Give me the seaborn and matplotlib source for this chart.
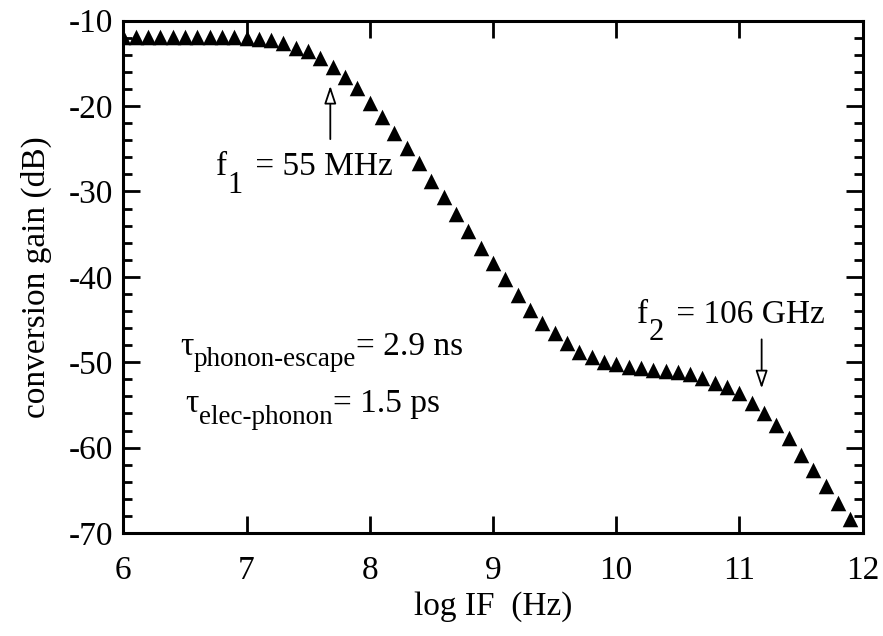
import numpy as np
import pandas as pd
import matplotlib
matplotlib.use("Agg")
import matplotlib.pyplot as plt
from matplotlib.ticker import MultipleLocator
import seaborn as sns

# log10 of IF frequency (Hz), one point every 0.1 decade
log_if = [round(6.0 + 0.1 * i, 1) for i in range(60)]

# conversion gain (dB)
gain_db = [
    -11.9, -11.9, -11.9, -11.9, -11.9, -11.9, -11.9, -11.9, -11.9, -11.9,
    -12.0, -12.2, -12.3, -12.6, -13.2, -13.6, -14.4, -15.4, -16.6, -17.9,
    -19.7, -21.3, -23.1, -24.9, -26.7, -28.8, -30.6, -32.7, -34.6, -36.6,
    -38.4, -40.3, -42.1, -43.9, -45.4, -46.6, -47.8, -48.8, -49.4, -50.0,
    -50.2, -50.6, -50.7, -50.9, -51.0, -51.1, -51.4, -51.8, -52.4, -52.9,
    -53.6, -54.8, -56.0, -57.4, -58.9, -60.9, -62.6, -64.5, -66.5, -68.4,
]

x_ticks = [6, 7, 8, 9, 10, 11, 12]
y_ticks = [-10, -20, -30, -40, -50, -60, -70]

df = pd.DataFrame({"log_if": log_if, "gain": gain_db})

sns.set_theme(style="ticks")
plt.rcParams["font.family"] = ["Liberation Serif", "DejaVu Serif"]
plt.rcParams["axes.unicode_minus"] = False
for key in ["text.color", "axes.labelcolor", "xtick.color", "ytick.color", "axes.edgecolor"]:
    plt.rcParams[key] = "black"

FS = 24

fig = plt.figure(figsize=(8.83, 6.36), dpi=100)
ax = fig.add_axes([0.1396, 0.162, 0.8374, 0.8055])

sns.scatterplot(data=df, x="log_if", y="gain", marker="^", s=125,
                color="black", linewidth=0, ax=ax, legend=False)

ax.set_xlim(6, 12)
ax.set_ylim(-70, -10)
ax.set_xticks(x_ticks)
ax.set_yticks(y_ticks)
ax.yaxis.set_minor_locator(MultipleLocator(2))

for side in ["left", "right", "top", "bottom"]:
    ax.spines[side].set_linewidth(2.2)

ax.tick_params(axis="both", which="major", direction="in", length=12, width=2.0,
               labelsize=FS, top=True, right=True)
ax.tick_params(axis="x", which="major", pad=16)
ax.tick_params(axis="y", which="major", pad=7)
ax.tick_params(axis="y", which="minor", direction="in", length=6.5, width=2.0,
               left=True, right=True)
ax.tick_params(axis="x", which="minor", bottom=False, top=False)

ax.set_xlabel("log IF  (Hz)", fontsize=FS, labelpad=4)
ax.set_ylabel("conversion gain (dB)", fontsize=FS, labelpad=12)


def sub_text(x, y, main, sub, rest, sub_size, drop, gap=0.0):
    # main symbol, dropped subscript, then the rest back on the main baseline
    t_main = ax.text(x, y, main, fontsize=FS, ha="left", va="baseline")
    t_sub = ax.annotate(sub, xy=(1, 0), xycoords=t_main, xytext=(0.5, -drop),
                        textcoords="offset points", fontsize=sub_size,
                        ha="left", va="bottom")
    ax.annotate(rest, xy=(1, 0), xycoords=(t_sub, t_main), xytext=(gap, 0),
                textcoords="offset points", fontsize=FS, ha="left", va="bottom")


arrow_style = dict(arrowstyle="-|>,head_width=0.3,head_length=0.9",
                   facecolor="white", edgecolor="black", lw=1.3)

# f1 marker
ax.annotate("", xy=(7.68, -17.3), xytext=(7.68, -24.2), arrowprops=arrow_style)
sub_text(6.75, -28.1, "f", "1", " = 55 MHz", 22, 12.5, gap=3)

# f2 marker
ax.annotate("", xy=(11.18, -53.4), xytext=(11.18, -47.0), arrowprops=arrow_style)
sub_text(10.17, -45.4, "f", "2", " = 106 GHz", 22, 12.5, gap=3)

# time constants
sub_text(6.46, -49.1, "\u03c4", "phonon-escape", "= 2.9 ns", 19.5, 7.8)
sub_text(6.50, -55.8, "\u03c4", "elec-phonon", "= 1.5 ps", 19.5, 7.8)

fig.savefig("out.png", dpi=100)
